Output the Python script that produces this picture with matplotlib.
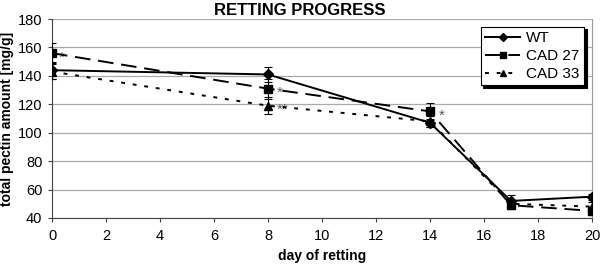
import matplotlib
matplotlib.use("Agg")
import matplotlib.pyplot as plt
from matplotlib.lines import Line2D

plt.rcParams['font.family'] = ['Liberation Sans', 'DejaVu Sans']

days = [0, 8, 14, 17, 20]
wt = [144, 141, 107, 52, 55]
wt_err = [6, 5, 3, 4, 2]
cad27 = [156, 131, 115, 49, 45]
cad27_err = [7, 7, 6, 3, 3]
cad33 = [143, 119, 108, 50, 48]
cad33_err = [5, 6, 4, 3, 3]
labels = ["WT", "CAD 27", "CAD 33"]
x_ticks = list(range(0, 21, 2))
y_ticks = list(range(40, 181, 20))

fig = plt.figure(figsize=(6.0, 2.66), dpi=100)
ax = fig.add_axes([0.0867, 0.1805, 0.9, 0.748])

styles = [('-', 'D', 5), ((0, (8, 4)), 's', 6), ((0, (2, 4)), '^', 6)]
series = [wt, cad27, cad33]
errs = [wt_err, cad27_err, cad33_err]
handles = []
for (ls, mk, ms), ys, er, lab in zip(styles, series, errs, labels):
    ax.errorbar(days, ys, yerr=er, color='black', lw=1.4, ls=ls, marker=mk, ms=ms,
                capsize=3, elinewidth=0.8, capthick=0.8, zorder=3)
    handles.append(Line2D([], [], color='black', lw=1.4, ls=ls, marker=mk, ms=ms - 1, label=lab))

# significance marks
kw = dict(textcoords='offset points', fontsize=11, color='#555555', va='center')
ax.annotate('*', (days[0], cad27[0]), xytext=(5, -3), **kw)
ax.annotate('*', (days[1], cad27[1]), xytext=(6, -3), **kw)
ax.annotate('**', (days[1], cad33[1]), xytext=(6, -3), **kw)
ax.annotate('*', (days[2], cad27[2]), xytext=(6, -3), **kw)

ax.set_xlim(0, 20)
ax.set_ylim(40, 180)
ax.set_xticks(x_ticks)
ax.set_yticks(y_ticks)
ax.tick_params(labelsize=10.5, length=3, color='#444444')
ax.tick_params(axis='x', pad=5)
ax.tick_params(axis='y', pad=4)
ax.yaxis.grid(True, color='#aaaaaa', lw=0.9)
ax.set_axisbelow(True)
ax.spines['right'].set_color('#999999')
ax.spines['top'].set_visible(False)
ax.spines['left'].set_color('#444444')
ax.spines['bottom'].set_color('#444444')

ax.set_xlabel('day of retting', fontsize=10, fontweight='bold', labelpad=4)
ax.set_ylabel('total pectin amount [mg/g]', fontsize=10, fontweight='bold', labelpad=3)
fig.text(0.5, 0.962, 'RETTING PROGRESS', ha='center', va='center', fontsize=12, fontweight='bold')

leg = ax.legend(handles=handles, loc='upper right', bbox_to_anchor=(1.0, 1.0), fontsize=11, frameon=True,
                fancybox=False, shadow={'color': 'black', 'alpha': 1.0}, edgecolor='black', handlelength=2.3,
                borderpad=0.3, labelspacing=0.25, handletextpad=0.4)
leg.get_frame().set_linewidth(0.8)

fig.savefig('out.png', dpi=100)
